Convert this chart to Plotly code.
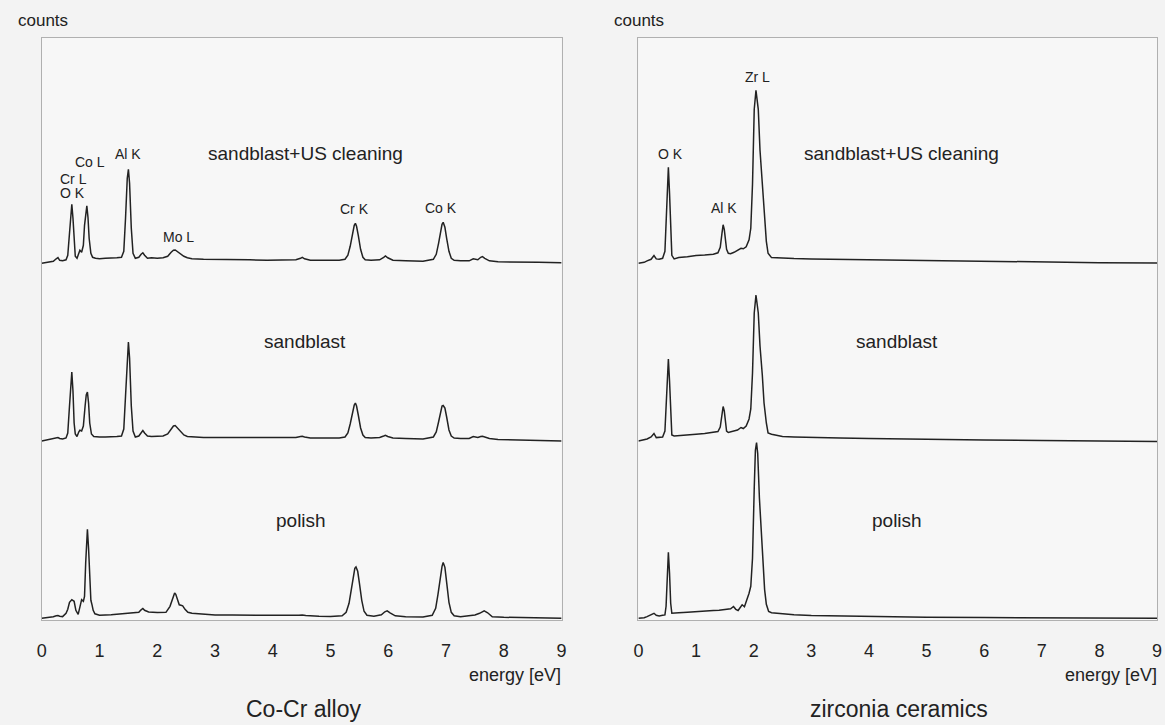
import plotly.graph_objects as go

# ---------------- data (energy in eV, counts in arbitrary units) ----------------
tick_values = [0, 1, 2, 3, 4, 5, 6, 7, 8, 9]
treatments = ["sandblast+US cleaning", "sandblast", "polish"]
panel_titles = ["Co-Cr alloy", "zirconia ceramics"]

# Co-Cr alloy, sandblast + US cleaning
cocr_usc_e = [0.00, 0.10, 0.20, 0.25, 0.28, 0.31, 0.36, 0.42, 0.45, 0.48, 0.50, 0.52, 0.54, 0.56, 0.58, 0.61,
              0.64, 0.66, 0.69, 0.72, 0.74, 0.76, 0.78, 0.80, 0.82, 0.85, 0.88, 0.93, 1.00, 1.10, 1.20, 1.30,
              1.38, 1.42, 1.45, 1.48, 1.50, 1.52, 1.55, 1.58, 1.62, 1.68, 1.72, 1.75, 1.78, 1.83, 1.90, 2.00,
              2.10, 2.18, 2.24, 2.28, 2.31, 2.35, 2.40, 2.46, 2.52, 2.60, 2.80, 3.00, 3.30, 3.60, 3.90, 4.20,
              4.40, 4.48, 4.51, 4.55, 4.65, 4.90, 5.15, 5.25, 5.30, 5.34, 5.38, 5.41, 5.43, 5.45, 5.48, 5.52,
              5.56, 5.60, 5.70, 5.85, 5.92, 5.95, 5.99, 6.08, 6.30, 6.60, 6.78, 6.83, 6.87, 6.91, 6.93, 6.95,
              6.98, 7.01, 7.05, 7.09, 7.14, 7.25, 7.40, 7.47, 7.50, 7.55, 7.60, 7.63, 7.67, 7.75, 7.90, 8.20,
              8.60, 9.00]
cocr_usc_c = [0, 1, 2, 4.5, 5.7, 3, 2.5, 3.5, 8, 30, 50, 59, 45, 18, 7, 5,
              9, 13, 11, 18, 38, 52, 57.5, 46, 25, 10, 6, 5, 4.5, 5, 5, 5.5,
              6, 12, 45, 85, 94, 80, 35, 10, 5, 6, 9, 10.5, 8, 5, 5.5, 5,
              5.5, 7, 11, 13, 13.3, 11.5, 9, 7, 5.5, 4.5, 4, 4, 3.5, 3.5, 3, 3,
              3.5, 5, 6, 4.5, 3, 3, 3, 4, 8, 17, 30, 38, 40, 37, 28, 14,
              6, 3.5, 3, 3.5, 6, 7.3, 5.5, 3, 2.5, 2, 4, 9, 20, 34, 39, 41,
              36, 25, 12, 5, 3, 2.5, 2.5, 4.5, 4, 3.5, 6, 6.7, 5, 2.5, 1.5, 1.5,
              1, 0.5]

# Co-Cr alloy, sandblast
cocr_sb_e = [0.00, 0.10, 0.20, 0.25, 0.28, 0.31, 0.36, 0.42, 0.45, 0.48, 0.50, 0.52, 0.54, 0.56, 0.58, 0.61,
             0.64, 0.66, 0.69, 0.72, 0.75, 0.77, 0.79, 0.81, 0.83, 0.86, 0.90, 0.95, 1.00, 1.10, 1.20, 1.30,
             1.38, 1.42, 1.45, 1.48, 1.50, 1.52, 1.55, 1.58, 1.62, 1.68, 1.72, 1.75, 1.78, 1.83, 1.90, 2.00,
             2.10, 2.18, 2.24, 2.28, 2.31, 2.35, 2.40, 2.46, 2.52, 2.60, 2.80, 3.00, 3.30, 3.60, 3.90, 4.20,
             4.40, 4.48, 4.51, 4.55, 4.65, 4.90, 5.15, 5.25, 5.30, 5.34, 5.38, 5.41, 5.43, 5.45, 5.48, 5.52,
             5.56, 5.60, 5.70, 5.85, 5.92, 5.95, 5.99, 6.08, 6.30, 6.60, 6.78, 6.83, 6.87, 6.91, 6.93, 6.95,
             6.98, 7.01, 7.05, 7.09, 7.14, 7.25, 7.40, 7.47, 7.50, 7.55, 7.60, 7.63, 7.67, 7.75, 7.90, 8.20,
             8.60, 9.00]
cocr_sb_c = [0, 1, 2, 3, 3.4, 2.5, 2, 3, 8, 35, 60, 69, 50, 18, 7, 4.5,
             9, 10.8, 10, 15, 35, 46, 49, 38, 18, 7, 4.5, 4, 4, 4, 4, 4.5,
             5, 12, 45, 88, 99, 83, 35, 10, 4, 5, 9, 10.5, 8, 5, 4.5, 4.5,
             5, 7, 12, 15, 15.5, 13, 9, 6, 4.5, 4, 3.5, 3.4, 3.4, 3.2, 3, 3,
             3.5, 4.5, 4.7, 4, 3, 3, 3, 4, 8, 17, 29, 36, 38, 35, 26, 13,
             6, 3.5, 3, 3.5, 5, 5.7, 4.5, 3, 2.5, 2, 4, 9, 19, 31, 35, 35.5,
             33, 24, 11, 5, 3, 2.5, 2.5, 4.5, 4, 3.5, 4.5, 4.7, 4, 2.5, 1.5, 1,
             0.5, 0]

# Co-Cr alloy, polish
cocr_po_e = [0.00, 0.10, 0.20, 0.25, 0.28, 0.31, 0.36, 0.42, 0.45, 0.48, 0.52, 0.56, 0.59, 0.63, 0.66, 0.69,
             0.72, 0.74, 0.76, 0.78, 0.79, 0.81, 0.83, 0.85, 0.87, 0.89, 0.92, 0.96, 1.00, 1.20, 1.40, 1.55,
             1.68, 1.72, 1.75, 1.78, 1.85, 2.00, 2.15, 2.22, 2.27, 2.30, 2.32, 2.35, 2.38, 2.41, 2.44, 2.48,
             2.53, 2.60, 2.80, 3.00, 3.30, 3.60, 3.90, 4.20, 4.45, 4.51, 4.57, 4.80, 5.00, 5.20, 5.27, 5.32,
             5.36, 5.39, 5.42, 5.44, 5.47, 5.50, 5.54, 5.58, 5.63, 5.75, 5.88, 5.94, 5.98, 6.03, 6.12, 6.30,
             6.60, 6.76, 6.82, 6.86, 6.90, 6.93, 6.95, 6.98, 7.01, 7.05, 7.09, 7.14, 7.25, 7.40, 7.50, 7.58,
             7.66, 7.72, 7.80, 8.00, 8.40, 9.00]
cocr_po_c = [0, 0.5, 1.5, 2.5, 2.7, 2, 1.7, 5, 9, 16, 18.6, 17, 8, 4, 12, 18.6,
             17, 22, 55, 82, 89, 70, 35, 18, 13.5, 8, 4.5, 3.4, 3, 3.5, 4.5, 5,
             6, 8.5, 9.8, 8, 6.4, 5.7, 6, 12, 21, 25.4, 24, 18, 13.5, 13, 12.5, 9,
             6, 5, 4, 3.4, 3.2, 3, 2.8, 2.7, 3, 3.4, 2.8, 2, 1.7, 2.5, 6, 15,
             30, 43, 50, 51.4, 47, 35, 18, 7, 3, 2, 3.5, 6.5, 7.4, 5.5, 2.5, 1.5,
             1.2, 3, 10, 24, 42, 52, 55.8, 51, 36, 16, 6, 2.5, 1.5, 2.5, 3.4, 5,
             7.4, 5.5, 1.5, 1, 0.5, 0]

# zirconia ceramics, sandblast + US cleaning
zr_usc_e = [0.00, 0.10, 0.15, 0.22, 0.27, 0.31, 0.36, 0.42, 0.46, 0.48, 0.50, 0.52, 0.54, 0.56, 0.58, 0.62,
            0.70, 0.85, 1.00, 1.15, 1.30, 1.38, 1.42, 1.45, 1.47, 1.49, 1.51, 1.53, 1.56, 1.60, 1.66, 1.72,
            1.78, 1.82, 1.87, 1.92, 1.95, 1.98, 2.01, 2.04, 2.08, 2.11, 2.15, 2.18, 2.22, 2.25, 2.31, 2.40,
            2.50, 2.70, 3.00, 3.50, 4.00, 4.50, 5.00, 6.00, 7.00, 8.00, 9.00]
zr_usc_c = [0, 1, 2.4, 4, 7.8, 4.4, 4, 5, 12, 40, 80, 96, 70, 30, 8, 4.4,
            5.7, 6.5, 7.8, 8.3, 9, 10.5, 16, 30, 38.5, 34, 22, 14, 10, 9.5, 11, 13,
            15, 14.5, 16.5, 23.5, 35, 79, 154, 173, 154, 113, 79, 45.6, 22, 10, 5.7, 5.5,
            5, 4.7, 4.4, 4, 3.4, 3, 2.4, 1.8, 1, 0.6, 0.3]

# zirconia ceramics, sandblast
zr_sb_e = [0.00, 0.10, 0.15, 0.22, 0.27, 0.31, 0.36, 0.42, 0.46, 0.48, 0.50, 0.52, 0.54, 0.56, 0.58, 0.62,
           0.70, 0.85, 1.00, 1.15, 1.30, 1.38, 1.42, 1.45, 1.47, 1.49, 1.51, 1.53, 1.56, 1.60, 1.66, 1.72,
           1.78, 1.82, 1.87, 1.92, 1.95, 1.98, 2.01, 2.04, 2.08, 2.11, 2.15, 2.18, 2.22, 2.25, 2.31, 2.40,
           2.50, 2.70, 3.00, 3.50, 4.00, 4.50, 5.00, 6.00, 7.00, 8.00, 9.00]
zr_sb_c = [0, 1, 2, 4, 7.5, 3.4, 3.4, 4, 10, 35, 70, 82, 60, 25, 6, 5,
           5.5, 6, 6.8, 7.5, 8.5, 9.5, 14, 27, 34.5, 30, 18, 10, 8.5, 9, 10, 11,
           13.5, 12.5, 15, 22, 32, 68, 128, 146, 128, 95, 66, 38, 18, 8, 6.8, 5.5,
           4.5, 4, 3.4, 3, 2.5, 2, 1.7, 1, 0.5, 0, -0.5]

# zirconia ceramics, polish
zr_po_e = [0.00, 0.10, 0.15, 0.22, 0.27, 0.31, 0.36, 0.42, 0.46, 0.48, 0.50, 0.52, 0.54, 0.56, 0.58, 0.62,
           0.70, 0.85, 1.00, 1.15, 1.30, 1.40, 1.50, 1.60, 1.65, 1.69, 1.73, 1.77, 1.80, 1.84, 1.88, 1.92,
           1.95, 1.98, 2.01, 2.03, 2.05, 2.07, 2.10, 2.13, 2.16, 2.19, 2.22, 2.26, 2.31, 2.40, 2.50, 2.70,
           3.00, 3.50, 4.00, 4.50, 5.00, 6.00, 7.00, 8.00, 9.00]
zr_po_c = [0, 0.5, 1.7, 3.5, 5, 3, 2.4, 3, 3.4, 12, 40, 66, 45, 15, 5, 5,
           5.5, 6, 6.8, 7.2, 7.8, 8, 8.5, 9.5, 11.8, 9, 7.8, 11, 13.5, 11.5, 18, 25,
           32, 60, 130, 168, 175.8, 165, 120, 86, 60, 28.7, 14, 6.8, 5.5, 5, 4.4, 3.5,
           2.7, 2.2, 1.8, 1.4, 1, 0.7, 0.5, 0.2, 0]

# ---------------- layout helpers ----------------
W, H = 1165, 725
px = lambda x: x / W
py = lambda y: 1 - y / H

FONT = "Liberation Sans, Arial, Helvetica, sans-serif"
INK = "#222222"
FRAME_TOP, FRAME_BOT = 37.5, 620.0
Y_SPAN = FRAME_BOT - FRAME_TOP
offsets = [356.7, 179.0, 1.7]  # vertical stacking of the three spectra

fig = go.Figure()

left = [(cocr_usc_e, cocr_usc_c), (cocr_sb_e, cocr_sb_c), (cocr_po_e, cocr_po_c)]
right = [(zr_usc_e, zr_usc_c), (zr_sb_e, zr_sb_c), (zr_po_e, zr_po_c)]

for (e, c), off, name in zip(left, offsets, treatments):
    fig.add_trace(go.Scatter(x=e, y=[v + off for v in c], mode="lines", name=name,
                             line=dict(color=INK, width=1.5), xaxis="x", yaxis="y",
                             showlegend=False))
for (e, c), off, name in zip(right, offsets, treatments):
    fig.add_trace(go.Scatter(x=e, y=[v + off for v in c], mode="lines", name=name,
                             line=dict(color=INK, width=1.5), xaxis="x2", yaxis="y2",
                             showlegend=False))

ax_common = dict(range=[0, 9], tickvals=tick_values, ticks="", showgrid=False, zeroline=False,
                 showline=True, mirror=True, linecolor="#b0b0b0", linewidth=1,
                 tickfont=dict(family=FONT, size=18, color=INK), ticklabelstandoff=14)
ay_common = dict(range=[0, Y_SPAN], showticklabels=False, ticks="", showgrid=False, zeroline=False,
                 showline=True, mirror=True, linecolor="#b0b0b0", linewidth=1)

fig.update_layout(
    width=W, height=H,
    margin=dict(l=0, r=0, t=0, b=0),
    paper_bgcolor="#f3f3f3", plot_bgcolor="#f7f7f7",
    xaxis=dict(domain=[px(37.1), px(561.4)], anchor="y", **ax_common),
    yaxis=dict(domain=[py(FRAME_BOT), py(FRAME_TOP)], anchor="x", **ay_common),
    xaxis2=dict(domain=[px(638.9), px(1162.0)], anchor="y2", **ax_common),
    yaxis2=dict(domain=[py(FRAME_BOT), py(FRAME_TOP)], anchor="x2", **ay_common),
)

def note(text, x, y, size, xanchor="center"):
    fig.add_annotation(text=text, x=px(x), y=py(y), xref="paper", yref="paper",
                       xanchor=xanchor, yanchor="middle", showarrow=False,
                       font=dict(family=FONT, size=size, color=INK))

# axis texts
note("counts", 10.7, 21, 17, "left")
note("counts", 612.6, 21, 17, "left")
note("energy [eV]", 563, 675, 18, "right")
note("energy [eV]", 1164, 675, 18, "right")
note(panel_titles[0], 301.6, 709, 23)
note(panel_titles[1], 901.4, 709, 23)

# treatment labels
for (y, t) in zip([154, 341, 520], treatments):
    note(t, 302.7 if t != "polish" else 299, y, 19)
for (y, t) in zip([154, 341, 520], treatments):
    note(t, 904.5 if t == treatments[0] else 900, y, 19)

# peak labels
for t, x, y in [("O K", 68, 193), ("Cr L", 69, 179), ("Co L", 85.4, 162), ("Al K", 124, 154),
                ("Mo L", 174.5, 237), ("Cr K", 353, 209), ("Co K", 440, 208),
                ("O K", 671, 154), ("Al K", 725, 208), ("Zr L", 759, 77)]:
    note(t, x, y, 14)

fig.write_html("out.html", config={"displayModeBar": False},
               post_script="document.body.style.margin='0';document.body.style.overflow='hidden';")
